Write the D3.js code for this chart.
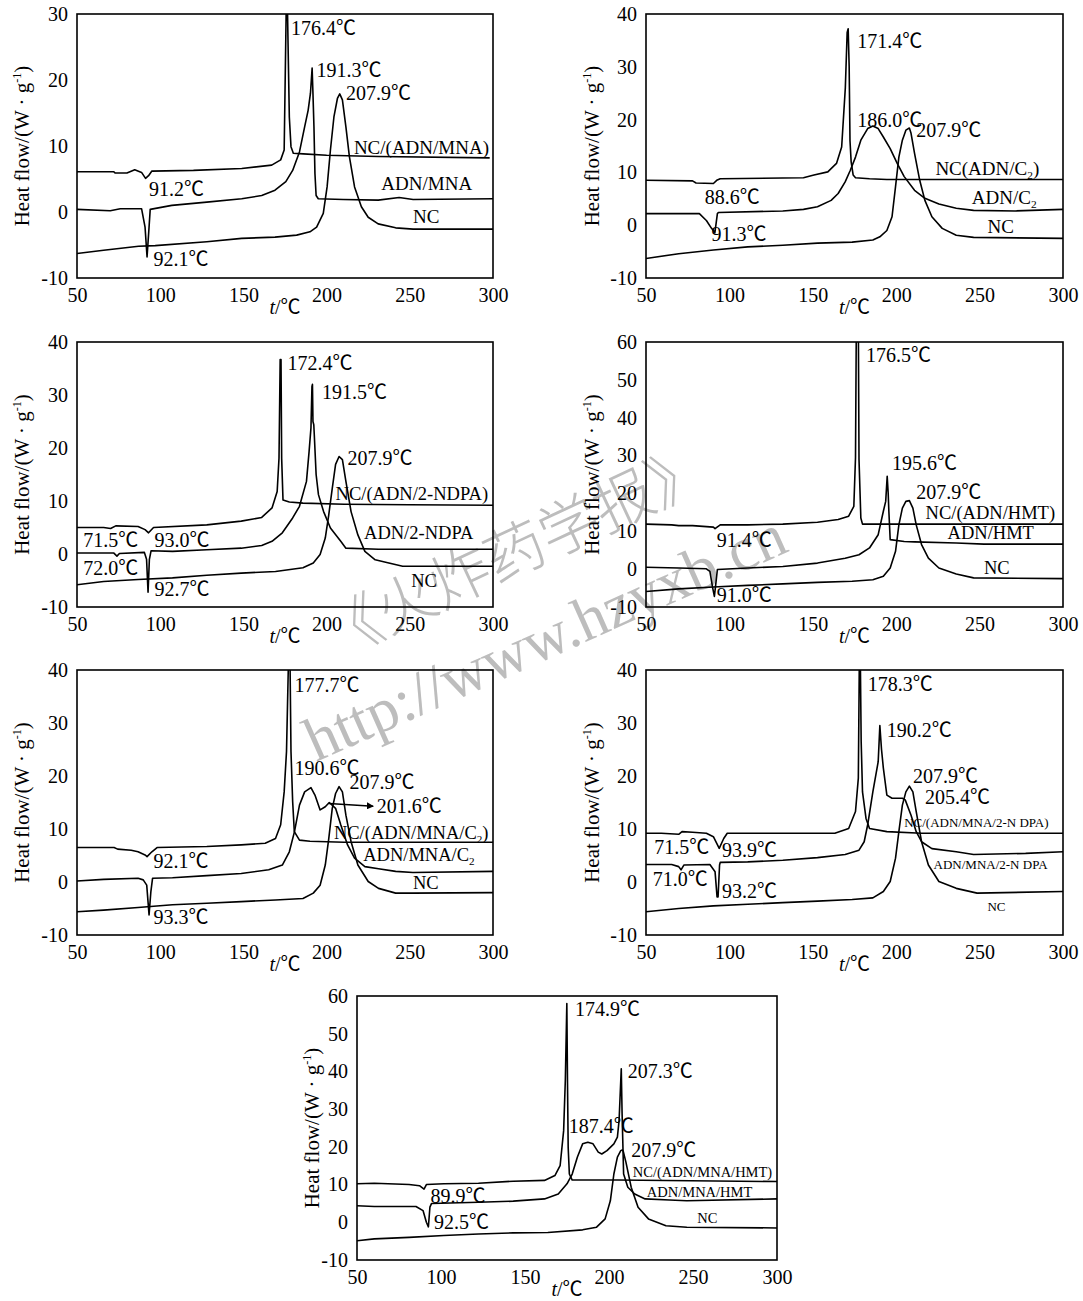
<!DOCTYPE html>
<html lang="zh-CN">
<head>
<meta charset="UTF-8">
<title>DSC curves</title>
<style>
  body { margin: 0; background: #fff; }
  svg text { font-family: "Liberation Serif", "Noto Sans CJK SC", serif; fill: #000; }
  .frame { fill: none; stroke: #000; stroke-width: 1.6px; }
  .curve { fill: none; stroke: #000; stroke-width: 1.6px; stroke-linejoin: round; }
  .wm { font-family: "Liberation Serif", "Noto Sans CJK SC", serif; fill: #bdbdbd; }
</style>
</head>
<body>
<script src="https://d3js.org/d3.v7.min.js"></script>
<script>
// 刻度
const xTicks = [50, 100, 150, 200, 250, 300];
const yTicks30 = [-10, 0, 10, 20, 30];
const yTicks40 = [-10, 0, 10, 20, 30, 40];
const yTicks60 = [-10, 0, 10, 20, 30, 40, 50, 60];

// 图1 NC/(ADN/MNA)
const p1Mix = [[50,6.1],[72,6.1],[73,5.9],[80,5.9],[84.7,6.4],[88.8,6.0],[91.2,5.1],[93,5.5],[95,6.2],[120,6.3],[149,6.6],[167,7.1],[172.4,7.9],[174.5,9.4],[175.8,32],[176.4,32],[176.8,26],[177.6,14.4],[178.6,9.9],[180,8.9],[186,8.8],[200,8.6],[231,8.4],[298,8.2]];
const p1ADN = [[50,0.4],[70,0.2],[76,0.5],[88.8,0.5],[90.9,-2.3],[92.1,-6.8],[93.3,-2.3],[94,0.4],[107,1.0],[128,1.5],[149,2.0],[161,2.5],[169,3.3],[175.5,4.6],[179.6,6.3],[183.7,9.1],[186.8,12.9],[188.9,15.4],[190.3,18.0],[191.3,21.8],[191.8,18.0],[192.4,12.9],[193,5.8],[193.7,2.5],[195,2.0],[210,1.9],[231,1.8],[243.6,2.2],[252,1.9],[300,2.0]];
const p1NC = [[50,-6.3],[66,-5.8],[87,-5.2],[97,-5.1],[128,-4.5],[149,-4.0],[169,-3.8],[182,-3.5],[190,-3.0],[194,-2.3],[198,-0.2],[200.3,3.8],[202.3,9.4],[204.4,14.4],[206.5,17.2],[207.9,17.9],[209.5,17.0],[211.6,12.9],[213.7,8.4],[216.8,3.8],[220.9,0.8],[225,-0.8],[231,-1.8],[241.5,-2.4],[252,-2.6],[300,-2.6]];
const p1Temps = [[178.6,26.8,"176.4℃"],[194,20.5,"191.3℃"],[211.6,17.0,"207.9℃"],[93.3,2.5,"91.2℃"],[96,-8.2,"92.1℃"]];
const p1Names = [[216.4,8.8,"NC/(ADN/MNA)"],[232.9,3.4,"ADN/MNA"],[251.9,-1.7,"NC"]];

// 图2 NC(ADN/C2)
const p2Mix = [[50,8.5],[77.9,8.4],[80,8.0],[90.4,7.9],[92.4,8.5],[94.5,8.8],[144.4,9.0],[150.7,9.5],[159,10.1],[164.2,11.7],[167.3,14.8],[169.5,26],[170.6,36.5],[171.2,37.2],[171.8,30],[172.3,16],[173,12],[174.2,9.5],[175.6,9.0],[184,8.8],[194.4,8.65],[300,8.65]];
const p2ADN = [[50,2.2],[82,2.2],[86.2,0.9],[89.3,-0.6],[91.3,-1.4],[92.8,2.2],[93.4,2.4],[132,2.7],[144.4,3.0],[152.8,3.5],[161,4.7],[165.2,6.0],[169.4,8.2],[172.5,10.4],[175.6,12.9],[178.8,16.1],[182.9,18.3],[186,18.8],[189.2,18.3],[192.3,16.7],[196.4,14.5],[200.6,11.7],[204.8,9.2],[211,6.6],[217.2,5.1],[225.6,4.0],[236,3.2],[246.4,2.8],[271.3,2.7],[300,3.0]];
const p2NC = [[50,-6.3],[69.6,-5.4],[90.4,-4.7],[111,-4.1],[132,-3.8],[152.8,-3.4],[173.6,-3.2],[186,-2.8],[190.2,-2.2],[194.4,-1.0],[197.5,1.6],[199.6,7.3],[201.6,12.9],[203.7,16.1],[205.8,18.0],[207.9,18.4],[208.9,17.4],[211,13.6],[214.1,8.5],[217.2,4.7],[221.4,1.6],[227.6,-0.6],[236,-1.9],[246.4,-2.3],[300,-2.5]];
const p2Temps = [[176.7,33.5,"171.4℃"],[176.7,18.6,"186.0℃"],[212,16.7,"207.9℃"],[85.2,4.0,"88.6℃"],[89.3,-3.0,"91.3℃"]];
const p2Names = [[223.5,9.5,"NC(ADN/C_2)"],[245.3,4.0,"ADN/C_2"],[254.7,-1.5,"NC"]];

// 图3 NC/(ADN/2-NDPA)
const p3Mix = [[50,5.0],[66,5.0],[70.2,4.8],[73.3,5.3],[86.7,5.2],[90.9,4.6],[93.0,4.0],[96,5.0],[128,5.5],[148.7,6.2],[161,6.9],[167.2,8.7],[170.3,11.8],[171.4,18.1],[172.1,36.7],[172.6,36.7],[173,18],[173.8,10.2],[177.6,9.8],[185.8,9.6],[210.6,9.4],[249.8,9.3],[300,9.2]];
const p3ADN = [[50,0.2],[72,0.2],[74,-0.4],[75.5,0.1],[90.5,0.3],[91.8,-1.0],[92.7,-7.2],[93.5,-1.0],[94.5,0.6],[107.4,0.5],[128,0.8],[148.7,1.1],[161,1.6],[167.2,2.4],[173.4,4.0],[179.6,6.8],[183.7,9.0],[187.9,13.7],[189.5,19.4],[190.6,23.8],[191.2,31.6],[191.5,32.0],[191.8,25],[192.3,24.4],[192.6,22.5],[193.7,15],[195.1,11.2],[198.2,8.0],[202.3,4.9],[208.5,2.4],[211.6,1.1],[231.2,0.9],[300,0.9]];
const p3NC = [[50,-5.8],[66,-5.2],[86.7,-4.8],[107.4,-4.5],[128,-4.0],[148.7,-3.6],[169.3,-3.3],[185.8,-2.6],[192,-1.7],[196.1,-0.1],[199.2,3.0],[201.3,7.4],[203.4,12.4],[205.4,16.9],[207.5,18.4],[209.5,17.8],[211.6,13.7],[214.7,8.0],[218.8,3.6],[223,0.5],[229.2,-1.1],[237.4,-1.7],[245.7,-2.3],[300,-2.3]];
const p3Temps = [[176.5,34.7,"172.4℃"],[197.2,29.3,"191.5℃"],[212.6,16.7,"207.9℃"],[53.7,1.4,"71.5℃"],[96.6,1.4,"93.0℃"],[53.7,-3.9,"72.0℃"],[96.6,-8.0,"92.7℃"]];
const p3Names = [[205.4,10.2,"NC/(ADN/2-NDPA)"],[222.5,2.8,"ADN/2-NDPA"],[250.8,-6.3,"NC"]];

// 图4 NC/(ADN/HMT)
const p4Mix = [[50,11.9],[65.4,11.7],[69.6,11.5],[77.9,11.5],[90.4,11.1],[91.4,10.7],[94.5,11.7],[111,11.7],[132,11.9],[152.8,12.4],[165.2,13.1],[171.5,14.0],[174.6,16.6],[175.6,29.4],[176.1,65],[177.3,65],[177.7,29],[178.8,13.5],[179.8,11.9],[300,11.9]];
const p4ADN = [[50,0.5],[69.6,0.3],[86.2,0.1],[88.3,-0.6],[90,-5.0],[91.0,-7.2],[91.8,-4.1],[92.8,-0.1],[111,0.3],[132,0.7],[152.8,1.6],[169.4,2.9],[177.7,3.8],[184,5.6],[189.2,9.1],[192.3,15.3],[193.7,17.9],[194.6,24.5],[195.2,20],[195.6,15.3],[196.4,7.8],[204.8,7.3],[211,7.2],[236,6.9],[252.6,6.6],[300,6.6]];
const p4NC = [[50,-5.9],[69.6,-5.2],[90.4,-4.7],[111,-4.3],[132,-3.9],[152.8,-3.5],[173.6,-3.2],[186,-2.8],[192.3,-1.9],[196.4,0.3],[199.6,4.7],[201.6,11.7],[203.7,16.1],[205.8,17.9],[207.9,18.1],[210,16.1],[212,11.7],[215.2,6.5],[219.3,2.9],[225.6,0.3],[236,-1.3],[246.4,-2.3],[300,-2.5]];
const p4Temps = [[181.9,54.7,"176.5℃"],[197.5,26.1,"195.6℃"],[212,18.6,"207.9℃"],[92.4,5.8,"91.4℃"],[92.4,-8.7,"91.0℃"]];
const p4Names = [[217.6,13.3,"NC/(ADN/HMT)"],[230.8,8.0,"ADN/HMT"],[252.6,-1.3,"NC"]];

// 图5 NC/(ADN/MNA/C2)
const p5Mix = [[50,6.5],[72.3,6.5],[74.4,6.2],[82.6,6.0],[86.7,5.7],[90.9,5.1],[92.1,4.8],[95,5.7],[98.1,6.5],[128,6.7],[148.7,7.0],[163.1,7.3],[169.3,8.2],[172.4,10.8],[174.5,17.0],[175.9,24.6],[177.1,42],[178,42],[178.6,24.6],[179.6,15.2],[180.6,9.5],[183.7,7.9],[190,7.7],[210.6,7.5],[300,7.5]];
const p5ADN = [[50,0.2],[66,0.5],[86.7,0.7],[89.8,0.4],[91.9,-0.6],[93.3,-6.2],[94.4,-1.8],[95.4,0.7],[107.4,0.8],[128,1.2],[148.7,1.6],[165.2,2.3],[173.4,3.2],[177.6,5.7],[180.7,9.5],[183.7,14.5],[186.8,17.0],[190.6,17.8],[193,16.4],[196.1,13.6],[199.2,14.2],[201.6,15.0],[205.4,13.9],[208.5,10.8],[212.6,7.0],[216.8,4.5],[223,2.9],[231.2,2.5],[241.5,2.0],[251.9,1.8],[300,2.0]];
const p5NC = [[50,-5.6],[66,-5.3],[86.7,-4.8],[107.4,-4.3],[128,-4.0],[148.7,-3.7],[169.3,-3.4],[185.8,-3.1],[192,-2.1],[196.1,-0.6],[199.2,3.2],[201.3,8.2],[203.4,13.9],[205.4,16.7],[207.5,18.0],[209.5,17.0],[211.6,12.6],[214.7,7.6],[218.8,3.2],[225,0.1],[231.2,-1.2],[241.5,-2.1],[251.9,-2.1],[300,-2.0]];
const p5Temps = [[180.7,35.8,"177.7℃"],[180.7,20.1,"190.6℃"],[213.7,17.5,"207.9℃"],[230.2,13.1,"201.6℃"],[96,2.7,"92.1℃"],[96,-8.0,"93.3℃"]];
const p5Names = [[204.4,8.2,"NC/(ADN/MNA/C_2)"],[222,4.0,"ADN/MNA/C_2"],[251.9,-1.4,"NC"]];
const p5Arrow = [[201.3,14.8],[228,14.3]];

// 图6 NC/(ADN/MNA/2-NDPA)
const p6Mix = [[50,9.2],[59.2,9.2],[69.6,9.0],[71.6,9.5],[77.9,9.4],[86.2,9.2],[90.4,8.55],[93.9,6.35],[96.6,8.2],[98.7,9.2],[163.2,9.2],[171.5,10.1],[175.6,13.3],[177.3,19.6],[177.9,42],[178.5,42],[179,26.5],[179.8,17],[181.9,12],[184,10.1],[194.4,9.5],[215.2,9.2],[300,9.2]];
const p6ADN = [[50,3.3],[65.4,3.3],[69.6,2.9],[71.0,2.3],[72.7,3.2],[88.3,3.3],[91.4,1.95],[92.6,-2.8],[93.2,-2.8],[94.1,3.2],[94.5,3.7],[111,3.8],[132,4.1],[152.8,4.6],[169.4,5.2],[177.7,6.0],[180.8,7.6],[182.9,10.8],[186,17],[189.2,22.7],[190.2,29.5],[191.2,25],[192.3,21.5],[194.4,16.4],[197.5,15.8],[203.7,15.8],[205.4,15.5],[208.9,12.6],[212,9.5],[215.2,7.6],[221.4,6.3],[236,5.7],[246.4,5.2],[277.6,5.4],[300,5.7]];
const p6NC = [[50,-5.6],[69.6,-5.0],[90.4,-4.5],[111,-4.2],[132,-3.9],[152.8,-3.6],[173.6,-3.3],[186,-3.0],[192.3,-1.8],[196.4,0.1],[199.6,4.5],[201.6,9.5],[203.7,14.5],[205.8,17.0],[207.9,18.1],[210,17.0],[212,13.3],[215.2,7.6],[219.3,3.2],[225.6,0.1],[236,-1.2],[248.5,-2.1],[300,-1.8]];
const p6Temps = [[182.9,36.1,"178.3℃"],[194.4,27.3,"190.2℃"],[210,18.7,"207.9℃"],[217.2,14.7,"205.4℃"],[55,5.3,"71.5℃"],[95.6,4.65,"93.9℃"],[54,-0.7,"71.0℃"],[95.6,-3.0,"93.2℃"]];
const p6Names = [[204.8,10.3,"NC/(ADN/MNA/2-N DPA)"],[222.4,2.4,"ADN/MNA/2-N DPA"],[254.7,-5.5,"NC"]];

// 图7 NC/(ADN/MNA/HMT)
const p7Mix = [[50,10.2],[60.3,10.35],[81,10.0],[87.2,9.7],[89.9,8.8],[91.3,10.0],[101.7,10.2],[122.3,10.35],[143,10.9],[161.6,11.1],[167.8,12.4],[170.9,15.0],[173,24.3],[174,37.6],[174.9,58],[175.3,37],[175.7,19.9],[176.4,12.8],[178.1,11.2],[205,11.2],[300,10.8]];
const p7ADN = [[50,4.4],[60.3,4.2],[85.1,4.2],[89.3,3.1],[91.3,0],[92.5,-1.2],[93.4,4.0],[94.4,5.0],[122.3,5.3],[143,5.6],[161.6,6.2],[169.8,7.5],[175,10.2],[178.1,12.8],[181.2,17.3],[184.3,20.8],[187.4,21.2],[190.5,20.8],[193.6,18.6],[195.7,18.1],[198.8,19.0],[202.9,20.8],[205,22.6],[206,27],[207.3,40.7],[207.8,28.8],[208.7,12.8],[211.2,9.3],[215.3,7.5],[221.5,6.2],[236,5.9],[246.3,5.7],[300,6.2]];
const p7NC = [[50,-4.9],[60.3,-4.4],[81,-4.0],[101.7,-3.5],[122.3,-3.1],[143,-2.8],[163.6,-2.7],[184.3,-2.0],[192.6,-1.3],[197.7,0.9],[200.8,5.7],[202.9,12.8],[205,17.3],[207,19.0],[207.9,19.2],[208.5,18.8],[210.1,15.9],[213.2,9.3],[217.3,4.0],[223.5,0.9],[233.9,-0.9],[246.3,-1.3],[300,-1.5]];
const p7Temps = [[179.7,54.7,"174.9℃"],[211.2,38.3,"207.3℃"],[176,23.7,"187.4℃"],[213.2,17.4,"207.9℃"],[93.8,5.1,"89.9℃"],[95.9,-1.8,"92.5℃"]];
const p7Names = [[214.2,12.1,"NC/(ADN/MNA/HMT)"],[222.5,6.8,"ADN/MNA/HMT"],[252.5,-0.3,"NC"]];

const panels = [
  { left: 77,  right: 493,  top: 14,  bottom: 278,  yTicks: yTicks30, titleOff: 55, series: [p1Mix, p1ADN, p1NC], temps: p1Temps, names: p1Names, nameSize: 19 },
  { left: 646, right: 1063, top: 14,  bottom: 278,  yTicks: yTicks40, titleOff: 54, series: [p2Mix, p2ADN, p2NC], temps: p2Temps, names: p2Names, nameSize: 19 },
  { left: 77,  right: 493,  top: 342, bottom: 607,  yTicks: yTicks40, titleOff: 55, series: [p3Mix, p3ADN, p3NC], temps: p3Temps, names: p3Names, nameSize: 18.5 },
  { left: 646, right: 1063, top: 342, bottom: 607,  yTicks: yTicks60, titleOff: 54, series: [p4Mix, p4ADN, p4NC], temps: p4Temps, names: p4Names, nameSize: 18.5 },
  { left: 77,  right: 493,  top: 670, bottom: 935,  yTicks: yTicks40, titleOff: 55, series: [p5Mix, p5ADN, p5NC], temps: p5Temps, names: p5Names, nameSize: 18.5, arrow: p5Arrow },
  { left: 646, right: 1063, top: 670, bottom: 935,  yTicks: yTicks40, titleOff: 54, series: [p6Mix, p6ADN, p6NC], temps: p6Temps, names: p6Names, nameSize: 13 },
  { left: 357, right: 777,  top: 996, bottom: 1260, yTicks: yTicks60, titleOff: 45, series: [p7Mix, p7ADN, p7NC], temps: p7Temps, names: p7Names, nameSize: 14.5 }
];

const svg = d3.select('body').append('svg')
  .attr('width', 1083)
  .attr('height', 1301)
  .style('display', 'block')
  .style('background', '#fff');

const defs = svg.append('defs');
defs.append('marker')
  .attr('id', 'arrow')
  .attr('viewBox', '0 0 10 10')
  .attr('refX', 9).attr('refY', 5)
  .attr('markerWidth', 7).attr('markerHeight', 7)
  .attr('markerUnits', 'userSpaceOnUse')
  .attr('orient', 'auto')
  .append('path').attr('d', 'M0,0 L10,5 L0,10 z').attr('fill', '#000');

// 水印
svg.append('text').attr('class', 'wm')
  .attr('transform', 'translate(515,552) rotate(-25)')
  .attr('text-anchor', 'middle').attr('dy', '0.35em')
  .attr('font-size', 60).attr('font-weight', 300)
  .text('《火炸药学报》');
svg.append('text').attr('class', 'wm')
  .attr('transform', 'translate(316,762) rotate(-24)')
  .attr('font-size', 62)
  .text('http://www.hzyxb.cn');

// 文字里 _2 当下标
function richText(sel, str, size) {
  const parts = str.split(/(_2)/).filter(s => s !== '');
  let shifted = false;
  parts.forEach(part => {
    if (part === '_2') {
      sel.append('tspan').attr('font-size', size * 0.6).attr('dy', size * 0.22).text('2');
      shifted = true;
    } else {
      const t = sel.append('tspan').text(part);
      if (shifted) { t.attr('dy', -size * 0.22); shifted = false; }
    }
  });
}

panels.forEach((p, i) => {
  const x = d3.scaleLinear().domain([50, 300]).range([p.left, p.right]);
  const y = d3.scaleLinear().domain([-10, d3.max(p.yTicks)]).range([p.bottom, p.top]);
  const g = svg.append('g');

  defs.append('clipPath').attr('id', 'clip' + i)
    .append('rect')
    .attr('x', p.left).attr('y', p.top)
    .attr('width', p.right - p.left).attr('height', p.bottom - p.top);

  // 坐标轴
  const xa = g.append('g')
    .attr('transform', `translate(0,${p.bottom})`)
    .call(d3.axisBottom(x).tickValues(xTicks).tickFormat(d => String(d)).tickSize(0).tickPadding(10));
  xa.select('.domain').remove();
  xa.selectAll('text').attr('font-size', 20);

  const ya = g.append('g')
    .attr('transform', `translate(${p.left},0)`)
    .call(d3.axisLeft(y).tickValues(p.yTicks).tickFormat(d => String(d)).tickSize(0).tickPadding(9));
  ya.select('.domain').remove();
  ya.selectAll('text').attr('font-size', 20);

  // 曲线
  const line = d3.line().x(d => x(d[0])).y(d => y(d[1]));
  g.append('g').attr('clip-path', `url(#clip${i})`)
    .selectAll('path')
    .data(p.series)
    .join('path')
    .attr('class', 'curve')
    .attr('d', line);

  g.append('rect').attr('class', 'frame')
    .attr('x', p.left).attr('y', p.top)
    .attr('width', p.right - p.left).attr('height', p.bottom - p.top);

  // 标注
  g.selectAll('text.temp')
    .data(p.temps)
    .join('text')
    .attr('class', 'temp')
    .attr('x', d => x(d[0]))
    .attr('y', d => y(d[1]))
    .attr('font-size', 20)
    .text(d => d[2]);

  g.selectAll('text.name')
    .data(p.names)
    .join('text')
    .attr('class', 'name')
    .attr('x', d => x(d[0]))
    .attr('y', d => y(d[1]))
    .attr('font-size', p.nameSize)
    .each(function (d) { richText(d3.select(this), d[2], p.nameSize); });

  if (p.arrow) {
    g.append('line')
      .attr('x1', x(p.arrow[0][0])).attr('y1', y(p.arrow[0][1]))
      .attr('x2', x(p.arrow[1][0])).attr('y2', y(p.arrow[1][1]))
      .attr('stroke', '#000').attr('stroke-width', 1.6)
      .attr('marker-end', 'url(#arrow)');
  }

  // 轴标题
  const cy = (p.top + p.bottom) / 2;
  const yt = g.append('text')
    .attr('transform', `translate(${p.left - p.titleOff},${cy}) rotate(-90)`)
    .attr('text-anchor', 'middle')
    .attr('dy', '0.35em')
    .attr('font-size', 21);
  yt.append('tspan').text('Heat flow/(W · g');
  yt.append('tspan').attr('font-size', 12).attr('dy', -8).text('-1');
  yt.append('tspan').attr('dy', 8).text(')');

  const xt = g.append('text')
    .attr('x', (p.left + p.right) / 2)
    .attr('y', p.bottom + 36)
    .attr('text-anchor', 'middle')
    .attr('font-size', 20);
  xt.append('tspan').attr('font-style', 'italic').text('t');
  xt.append('tspan').text('/℃');
});
</script>
</body>
</html>
